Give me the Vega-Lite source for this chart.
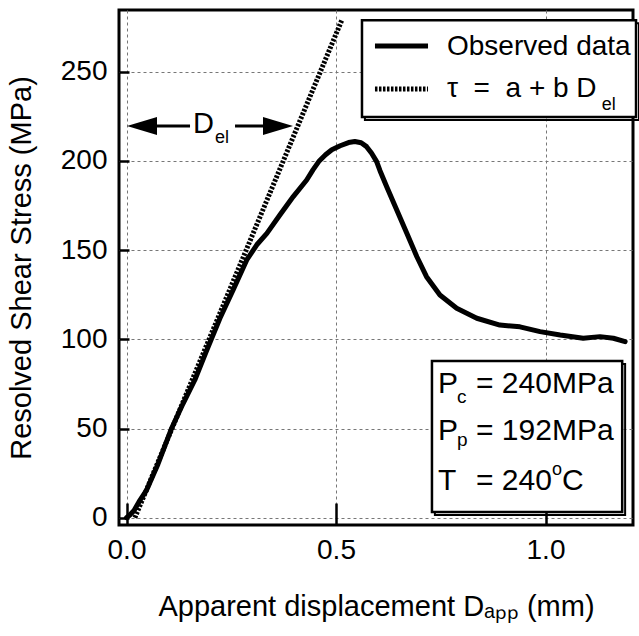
{
  "$schema": "https://vega.github.io/schema/vega-lite/v6.json",
  "width": 514,
  "height": 515,
  "autosize": {"type": "none"},
  "padding": {"left": 119, "top": 10, "right": 6, "bottom": 111},
  "background": "white",
  "config": {
    "font": "Liberation Sans",
    "view": {"stroke": "black", "strokeWidth": 3},
    "axis": {
      "domain": false,
      "grid": true,
      "gridColor": "#777777",
      "gridDash": [3, 3],
      "gridWidth": 1,
      "tickColor": "black",
      "tickWidth": 2.5,
      "labelFont": "Liberation Sans",
      "labelFontSize": 28,
      "labelColor": "black",
      "titleFont": "Liberation Sans",
      "titleFontSize": 29,
      "titleFontWeight": "normal",
      "titleColor": "black",
      "titleLimit": 1000
    }
  },
  "datasets": {
    "obs": [
      {"x": 0, "y": 0}, {"x": 0.008, "y": 1.5}, {"x": 0.018, "y": 4}, {"x": 0.03, "y": 9},
      {"x": 0.048, "y": 15.5}, {"x": 0.075, "y": 30}, {"x": 0.108, "y": 50.3}, {"x": 0.135, "y": 64},
      {"x": 0.163, "y": 77.2}, {"x": 0.19, "y": 93}, {"x": 0.223, "y": 111.8}, {"x": 0.255, "y": 128},
      {"x": 0.287, "y": 144.5}, {"x": 0.311, "y": 153}, {"x": 0.335, "y": 159.4}, {"x": 0.366, "y": 169.7},
      {"x": 0.398, "y": 180}, {"x": 0.43, "y": 189.3}, {"x": 0.445, "y": 195}, {"x": 0.46, "y": 200},
      {"x": 0.475, "y": 203.5}, {"x": 0.49, "y": 206.3}, {"x": 0.51, "y": 208.5}, {"x": 0.53, "y": 210.3},
      {"x": 0.545, "y": 210.9}, {"x": 0.56, "y": 210.2}, {"x": 0.573, "y": 208},
      {"x": 0.585, "y": 204.3}, {"x": 0.597, "y": 199.6}, {"x": 0.605, "y": 194.5}, {"x": 0.621, "y": 185.5},
      {"x": 0.645, "y": 172.5}, {"x": 0.669, "y": 159.4}, {"x": 0.693, "y": 146.3}, {"x": 0.716, "y": 135.1},
      {"x": 0.748, "y": 124.8}, {"x": 0.788, "y": 117.4}, {"x": 0.836, "y": 111.8}, {"x": 0.891, "y": 108},
      {"x": 0.939, "y": 107}, {"x": 0.987, "y": 104.3}, {"x": 1.035, "y": 102.4}, {"x": 1.09, "y": 100.6},
      {"x": 1.13, "y": 101.5}, {"x": 1.162, "y": 100.6}, {"x": 1.19, "y": 98.7}
    ],
    "fit": [{"x": 0.02, "y": 0}, {"x": 0.514, "y": 279}]
  },
  "layer": [
    {
      "data": {"name": "obs"},
      "mark": {"type": "line", "color": "black", "strokeWidth": 5, "strokeCap": "round", "strokeJoin": "round", "clip": false},
      "encoding": {
        "x": {"field": "x", "type": "quantitative",
              "scale": {"domain": [-0.0179, 1.2088], "nice": false, "zero": false},
              "axis": {"values": [0, 0.5, 1.0], "format": ".1f", "tickSize": -22, "labelPadding": 33,
                       "title": "Apparent displacement Dₐₚₚ (mm)", "titlePadding": 28}},
        "y": {"field": "y", "type": "quantitative",
              "scale": {"domain": [-4.09, 284.6], "nice": false, "zero": false},
              "axis": {"values": [0, 50, 100, 150, 200, 250], "tickSize": -10, "labelPadding": 22,
                       "title": "Resolved Shear Stress (MPa)", "titlePadding": 24}}
      }
    },
    {
      "data": {"name": "fit"},
      "mark": {"type": "line", "color": "black", "strokeWidth": 5, "strokeDash": [2.5, 1.5]},
      "encoding": {
        "x": {"field": "x", "type": "quantitative"},
        "y": {"field": "y", "type": "quantitative"}
      }
    },
    {
      "data": {"values": [{}]},
      "layer": [
        {"mark": {"type": "rect", "fill": null, "filled": false, "stroke": "black", "strokeWidth": 2, "clip": false},
         "encoding": {"x": {"datum": 0.569, "type": "quantitative"}, "x2": {"datum": 1.223},
                      "y": {"datum": 277.2, "type": "quantitative"}, "y2": {"datum": 222.9}}},
        {"mark": {"type": "rect", "fill": "white", "stroke": "black", "strokeWidth": 2.5, "clip": false},
         "encoding": {"x": {"datum": 0.562, "type": "quantitative"}, "x2": {"datum": 1.216},
                      "y": {"datum": 278.9, "type": "quantitative"}, "y2": {"datum": 224.6}}},
        {"mark": {"type": "rule", "color": "black", "strokeWidth": 5},
         "encoding": {"x": {"datum": 0.593, "type": "quantitative"}, "x2": {"datum": 0.7196},
                      "y": {"datum": 264.4, "type": "quantitative"}}},
        {"mark": {"type": "rule", "color": "black", "strokeWidth": 5, "strokeDash": [2.5, 1.5]},
         "encoding": {"x": {"datum": 0.593, "type": "quantitative"}, "x2": {"datum": 0.7196},
                      "y": {"datum": 240.3, "type": "quantitative"}}},
        {"mark": {"type": "text", "text": "Observed data", "fontSize": 28, "align": "left", "baseline": "alphabetic", "color": "black", "clip": false},
         "encoding": {"x": {"datum": 0.7649, "type": "quantitative"}, "y": {"datum": 259.4, "type": "quantitative"}}},
        {"mark": {"type": "text", "text": "τ\u00a0\u00a0=\u00a0\u00a0a + b D", "fontSize": 28, "align": "left", "baseline": "alphabetic", "color": "black", "clip": false},
         "encoding": {"x": {"datum": 0.7649, "type": "quantitative"}, "y": {"datum": 235.8, "type": "quantitative"}}},
        {"mark": {"type": "text", "text": "el", "fontSize": 18, "align": "left", "baseline": "alphabetic", "color": "black", "clip": false},
         "encoding": {"x": {"datum": 1.134, "type": "quantitative"}, "y": {"datum": 228.5, "type": "quantitative"}}},

        {"mark": {"type": "rect", "fill": null, "filled": false, "stroke": "black", "strokeWidth": 2, "clip": false},
         "encoding": {"x": {"datum": 0.736, "type": "quantitative"}, "x2": {"datum": 1.19},
                      "y": {"datum": 86.1, "type": "quantitative"}, "y2": {"datum": 1.5}}},
        {"mark": {"type": "rect", "fill": "white", "stroke": "black", "strokeWidth": 2.5, "clip": false},
         "encoding": {"x": {"datum": 0.729, "type": "quantitative"}, "x2": {"datum": 1.183},
                      "y": {"datum": 87.8, "type": "quantitative"}, "y2": {"datum": 3.2}}},
        {"mark": {"type": "text", "text": "P", "fontSize": 30, "align": "left", "baseline": "alphabetic", "color": "black"},
         "encoding": {"x": {"datum": 0.7434, "type": "quantitative"}, "y": {"datum": 69.9, "type": "quantitative"}}},
        {"mark": {"type": "text", "text": "c", "fontSize": 19, "align": "left", "baseline": "alphabetic", "color": "black"},
         "encoding": {"x": {"datum": 0.7888, "type": "quantitative"}, "y": {"datum": 64.2, "type": "quantitative"}}},
        {"mark": {"type": "text", "text": "= 240MPa", "fontSize": 30, "align": "left", "baseline": "alphabetic", "color": "black"},
         "encoding": {"x": {"datum": 0.8341, "type": "quantitative"}, "y": {"datum": 69.9, "type": "quantitative"}}},
        {"mark": {"type": "text", "text": "P", "fontSize": 30, "align": "left", "baseline": "alphabetic", "color": "black"},
         "encoding": {"x": {"datum": 0.7434, "type": "quantitative"}, "y": {"datum": 43.6, "type": "quantitative"}}},
        {"mark": {"type": "text", "text": "p", "fontSize": 19, "align": "left", "baseline": "alphabetic", "color": "black"},
         "encoding": {"x": {"datum": 0.7888, "type": "quantitative"}, "y": {"datum": 40.2, "type": "quantitative"}}},
        {"mark": {"type": "text", "text": "= 192MPa", "fontSize": 30, "align": "left", "baseline": "alphabetic", "color": "black"},
         "encoding": {"x": {"datum": 0.8341, "type": "quantitative"}, "y": {"datum": 43.6, "type": "quantitative"}}},
        {"mark": {"type": "text", "text": "T", "fontSize": 30, "align": "left", "baseline": "alphabetic", "color": "black"},
         "encoding": {"x": {"datum": 0.7434, "type": "quantitative"}, "y": {"datum": 15.5, "type": "quantitative"}}},
        {"mark": {"type": "text", "text": "= 240", "fontSize": 30, "align": "left", "baseline": "alphabetic", "color": "black"},
         "encoding": {"x": {"datum": 0.8341, "type": "quantitative"}, "y": {"datum": 15.5, "type": "quantitative"}}},
        {"mark": {"type": "text", "text": "o", "fontSize": 18, "align": "left", "baseline": "alphabetic", "color": "black"},
         "encoding": {"x": {"datum": 1.0155, "type": "quantitative"}, "y": {"datum": 24.0, "type": "quantitative"}}},
        {"mark": {"type": "text", "text": "C", "fontSize": 30, "align": "left", "baseline": "alphabetic", "color": "black"},
         "encoding": {"x": {"datum": 1.0394, "type": "quantitative"}, "y": {"datum": 15.5, "type": "quantitative"}}},

        {"mark": {"type": "rule", "color": "black", "strokeWidth": 3},
         "encoding": {"x": {"datum": 0.037, "type": "quantitative"}, "x2": {"datum": 0.1516},
                      "y": {"datum": 219.6, "type": "quantitative"}}},
        {"mark": {"type": "rule", "color": "black", "strokeWidth": 3},
         "encoding": {"x": {"datum": 0.259, "type": "quantitative"}, "x2": {"datum": 0.3616},
                      "y": {"datum": 219.6, "type": "quantitative"}}},
        {"mark": {"type": "point", "shape": "M -1 0 L 1 -0.6 L 1 0.6 Z", "size": 900, "filled": true, "color": "black", "opacity": 1, "strokeWidth": 0},
         "encoding": {"x": {"datum": 0.037, "type": "quantitative"}, "y": {"datum": 219.6, "type": "quantitative"}}},
        {"mark": {"type": "point", "shape": "M 1 0 L -1 -0.6 L -1 0.6 Z", "size": 900, "filled": true, "color": "black", "opacity": 1, "strokeWidth": 0},
         "encoding": {"x": {"datum": 0.3616, "type": "quantitative"}, "y": {"datum": 219.6, "type": "quantitative"}}},
        {"mark": {"type": "text", "text": "D", "fontSize": 29, "align": "left", "baseline": "alphabetic", "color": "black"},
         "encoding": {"x": {"datum": 0.1587, "type": "quantitative"}, "y": {"datum": 215.6, "type": "quantitative"}}},
        {"mark": {"type": "text", "text": "el", "fontSize": 18, "align": "left", "baseline": "alphabetic", "color": "black"},
         "encoding": {"x": {"datum": 0.2112, "type": "quantitative"}, "y": {"datum": 210, "type": "quantitative"}}}
      ]
    }
  ]
}
